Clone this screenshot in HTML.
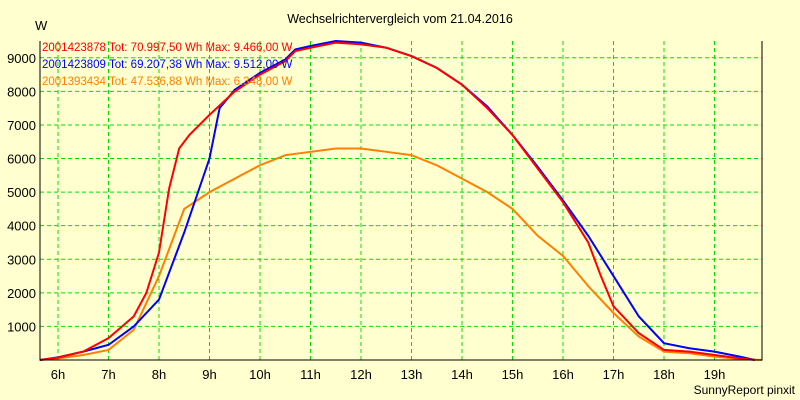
<!DOCTYPE html>
<html><head><meta charset="utf-8"><style>
body{margin:0;background:#ffffd0;}
svg{display:block;font-family:"Liberation Sans",sans-serif;}
</style></head><body>
<svg id="c" width="800" height="400">
<rect width="800" height="400" fill="#ffffd0"/>
<text x="400" y="23" text-anchor="middle" font-size="12.5">Wechselrichtervergleich vom 21.04.2016</text>
<text x="35" y="30" font-size="13">W</text>
<text x="795" y="394" text-anchor="end" font-size="12">SunnyReport pinxit</text>
<g id="grid"></g><g id="series"></g><g id="axes"></g>
<text x="42" y="51" font-size="11.5" fill="#ff0000">2001423878 Tot: 70.997,50 Wh Max: 9.466,00 W</text>
<text x="42" y="68" font-size="11.5" fill="#0000ff">2001423809 Tot: 69.207,38 Wh Max: 9.512,00 W</text>
<text x="42" y="85" font-size="11.5" fill="#ff8000">2001393434 Tot: 47.536,88 Wh Max: 6.348,00 W</text>
</svg>
<script>
const yTicks=[1000,2000,3000,4000,5000,6000,7000,8000,9000];
const xTicks=[6,7,8,9,10,11,12,13,14,15,16,17,18,19];
const redT=[5.64,6,6.5,7,7.5,7.75,8,8.2,8.4,8.6,9,9.5,10,10.5,10.7,11,11.5,12,12.5,13,13.5,14,14.5,15,15.5,16,16.5,16.75,17,17.5,18,18.5,19,19.5,19.8];
const redV=[0,70,250,650,1300,2000,3200,5100,6300,6700,7300,8000,8500,8900,9200,9300,9450,9400,9300,9050,8700,8200,7500,6700,5700,4700,3500,2500,1600,800,300,250,150,50,0];
const blueT=[5.64,6,6.5,7,7.5,8,8.5,9,9.2,9.5,10,10.5,10.7,11,11.5,12,12.5,13,13.5,14,14.5,15,15.5,16,16.5,17,17.5,18,18.5,19,19.5,19.8];
const blueV=[0,80,250,450,1000,1800,3800,6000,7500,8050,8550,8950,9250,9350,9500,9450,9300,9050,8700,8200,7550,6700,5750,4750,3700,2500,1300,500,350,250,100,0];
const orangeT=[5.64,6,6.5,7,7.5,8,8.3,8.5,9,9.5,10,10.5,11,11.5,12,12.5,13,13.5,14,14.5,15,15.5,16,16.5,17,17.5,18,18.5,19,19.5,19.94];
const orangeV=[0,50,150,300,900,2500,3700,4500,5000,5400,5800,6100,6200,6300,6300,6200,6100,5800,5400,5000,4500,3700,3100,2200,1400,700,250,200,100,30,0];
const L=40,R=762,B=360,T=41;
const x=t=>58+(t-6)*50.5;
const y=v=>B-v*(B-T)/9500;
const NS="http://www.w3.org/2000/svg";
function mk(tag,at,parent){const e=document.createElementNS(NS,tag);for(const k in at)e.setAttribute(k,at[k]);document.getElementById(parent).appendChild(e);return e;}
yTicks.forEach(v=>{
 const g=mk('line',{x1:L,x2:R,y1:y(v),y2:y(v),stroke:'#00e000','stroke-dasharray':'4,3'},'grid');
 
 
 const t=mk('text',{x:36,y:y(v)+5,'text-anchor':'end','font-size':13},'axes');t.textContent=v;
 
 
});
xTicks.forEach(h=>{
 const g=mk('line',{x1:x(h),x2:x(h),y1:T,y2:B,stroke:'#00e000','stroke-dasharray':'4,3'},'grid');
 
 
 const t=mk('text',{x:x(h),y:B+19,'text-anchor':'middle','font-size':13},'axes');t.textContent=h+'h';
 
 
});
const ax=mk('path',{d:`M${L} ${T}V${B}H${R}V${T}`,fill:'none',stroke:'#000'},'axes');


[[orangeT,orangeV,'#ff8000','series-orange'],[blueT,blueV,'#0000ff','series-blue'],[redT,redV,'#ff0000','series-red']].forEach(([ts,vs,c,n])=>{
 const p=mk('polyline',{points:ts.map((t,i)=>x(t)+','+y(vs[i])).join(' '),fill:'none',stroke:c,'stroke-width':2},'series');
 
 
});
</script>
</body></html>
